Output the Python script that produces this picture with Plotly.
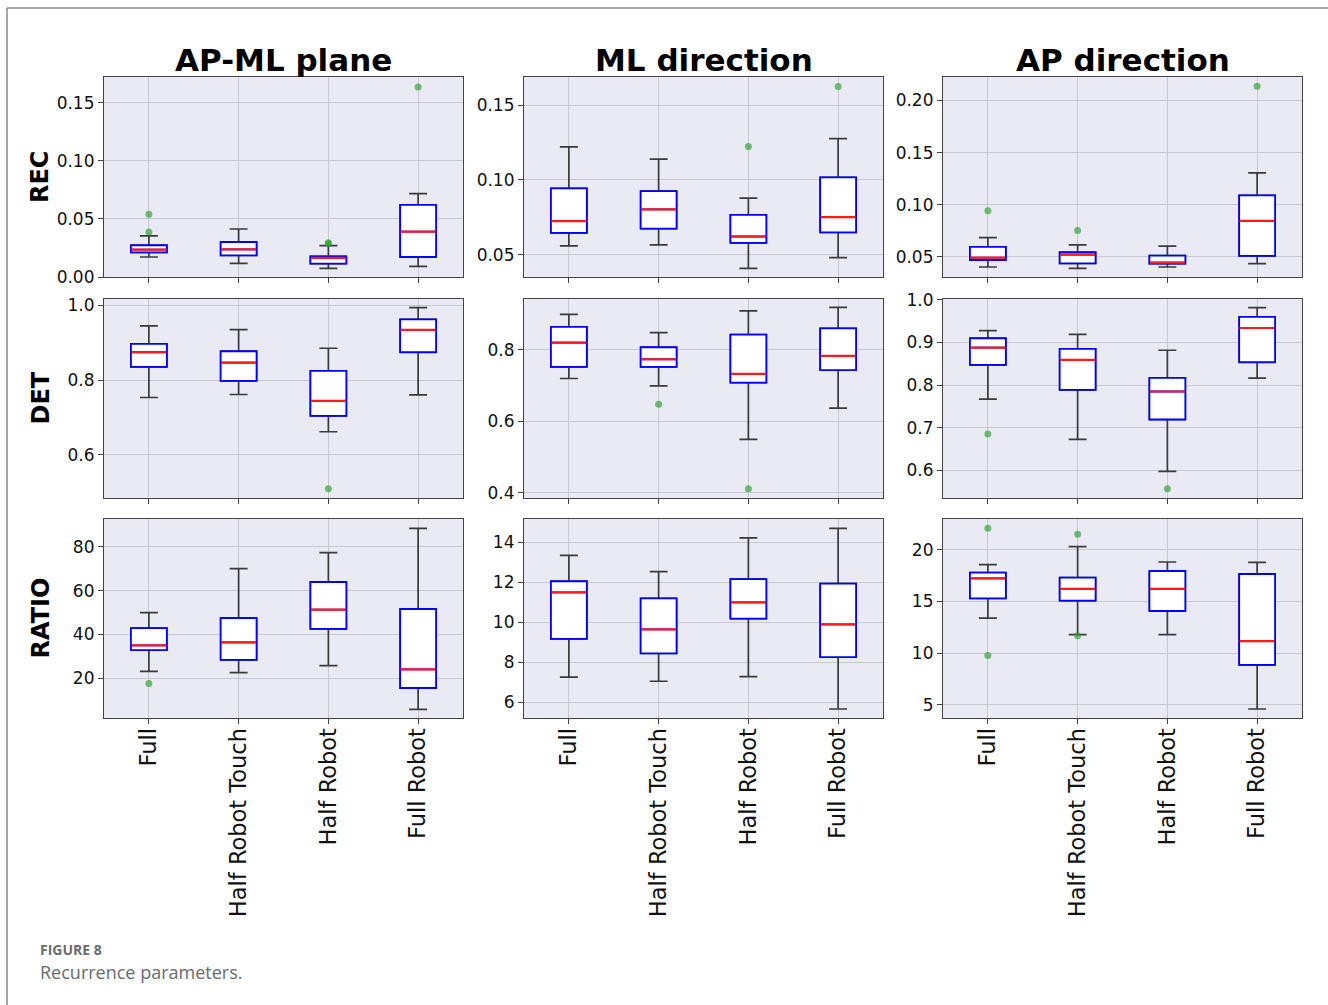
import plotly.graph_objects as go

categories = ["Full", "Half Robot Touch", "Half Robot", "Full Robot"]
col_titles = ["AP-ML plane", "ML direction", "AP direction"]
row_titles = ["REC", "DET", "RATIO"]

# Box statistics per panel: lower whisker, q1, median, q3, upper whisker per category
rec_apml = dict(low=[0.0172, 0.0118, 0.0075, 0.0092], q1=[0.0212, 0.0186, 0.0115, 0.0172],
                med=[0.0235, 0.0238, 0.0164, 0.0390], q3=[0.0273, 0.0301, 0.0178, 0.0620],
                high=[0.0353, 0.0413, 0.0270, 0.0717])
rec_apml_out = dict(cat=["Full", "Full", "Half Robot", "Half Robot", "Full Robot"],
                    val=[0.0539, 0.0387, 0.0295, 0.0285, 0.1635])

rec_ml = dict(low=[0.0558, 0.0565, 0.0408, 0.0480], q1=[0.0645, 0.0674, 0.0578, 0.0648],
              med=[0.0724, 0.0802, 0.0621, 0.0751], q3=[0.0943, 0.0925, 0.0766, 0.1017],
              high=[0.1220, 0.1138, 0.0878, 0.1276])
rec_ml_out = dict(cat=["Half Robot", "Full Robot"], val=[0.1223, 0.1625])

rec_ap = dict(low=[0.0404, 0.0391, 0.0404, 0.0436], q1=[0.0471, 0.0439, 0.0436, 0.0510],
              med=[0.0494, 0.0522, 0.0446, 0.0846], q3=[0.0596, 0.0545, 0.0513, 0.1090],
              high=[0.0686, 0.0615, 0.0603, 0.1305])
rec_ap_out = dict(cat=["Full", "Half Robot Touch", "Full Robot"], val=[0.0942, 0.0753, 0.2135])

det_apml = dict(low=[0.7532, 0.7612, 0.6615, 0.7604], q1=[0.8352, 0.7978, 0.7042, 0.8744],
                med=[0.8744, 0.8468, 0.7443, 0.9341], q3=[0.8967, 0.8770, 0.8245, 0.9626],
                high=[0.9448, 0.9350, 0.8851, 0.9938])
det_apml_out = dict(cat=["Half Robot"], val=[0.5091])

det_ml = dict(low=[0.7193, 0.6988, 0.5494, 0.6367], q1=[0.7517, 0.7517, 0.7081, 0.7425],
              med=[0.8195, 0.7731, 0.7323, 0.7824], q3=[0.8631, 0.8065, 0.8418, 0.8594],
              high=[0.8984, 0.8473, 0.9077, 0.9179])
det_ml_out = dict(cat=["Half Robot Touch", "Half Robot"], val=[0.6478, 0.4121])

det_ap = dict(low=[0.7669, 0.6725, 0.5977, 0.8160], q1=[0.8472, 0.7887, 0.7193, 0.8534],
              med=[0.8877, 0.8589, 0.7848, 0.9337], q3=[0.9096, 0.8846, 0.8168, 0.9595],
              high=[0.9275, 0.9189, 0.8815, 0.9813])
det_ap_out = dict(cat=["Full", "Half Robot"], val=[0.6850, 0.5571])

ratio_apml = dict(low=[23.2, 22.6, 25.8, 5.9], q1=[32.9, 28.4, 42.5, 15.6],
                  med=[35.0, 36.4, 51.3, 24.1], q3=[42.9, 47.5, 63.9, 51.6],
                  high=[49.9, 70.0, 77.3, 88.3])
ratio_apml_out = dict(cat=["Full"], val=[17.6])

ratio_ml = dict(low=[7.25, 7.04, 7.27, 5.65], q1=[9.16, 8.44, 10.18, 8.25],
                med=[11.49, 9.64, 10.99, 9.89], q3=[12.05, 11.19, 12.16, 11.93],
                high=[13.35, 12.53, 14.22, 14.70])
ratio_ml_out = dict(cat=[], val=[])

ratio_ap = dict(low=[13.40, 11.79, 11.79, 4.58], q1=[15.31, 15.08, 14.08, 8.85],
                med=[17.25, 16.22, 16.22, 11.17], q3=[17.80, 17.31, 17.96, 17.67],
                high=[18.57, 20.32, 18.83, 18.80])
ratio_ap_out = dict(cat=["Full", "Full", "Half Robot Touch", "Half Robot Touch"],
                    val=[22.10, 9.78, 21.52, 11.69])

panels = [
    [rec_apml, rec_ml, rec_ap],
    [det_apml, det_ml, det_ap],
    [ratio_apml, ratio_ml, ratio_ap],
]
outliers = [
    [rec_apml_out, rec_ml_out, rec_ap_out],
    [det_apml_out, det_ml_out, det_ap_out],
    [ratio_apml_out, ratio_ml_out, ratio_ap_out],
]
y_ranges = [
    [[0.0, 0.172], [0.035, 0.1688], [0.0308, 0.2224]],
    [[0.4842, 1.0169], [0.386, 0.9411], [0.5353, 1.0016]],
    [[1.93, 92.6], [5.2, 15.17], [3.71, 23.0]],
]
y_dticks = [[0.05, 0.05, 0.05], [0.2, 0.2, 0.1], [20, 2, 5]]
y_formats = [[".2f", ".2f", ".2f"], [".1f", ".1f", ".1f"], ["d", "d", "d"]]

# layout geometry (pixels)
W, H = 1328, 1005
col_px = [(104, 463), (524, 883), (943, 1302)]
row_px = [(77, 277), (299, 498), (519, 718)]

BG = "#eaeaf4"
GRID = "#c8c8ce"
AX = "#444444"
FONT = "DejaVu Sans"

fig = go.Figure()
layout = {}

for r in range(3):
    for c in range(3):
        idx = r * 3 + c + 1
        xa = "x" if idx == 1 else f"x{idx}"
        ya = "y" if idx == 1 else f"y{idx}"
        d = panels[r][c]
        # whiskers (dark grey)
        fig.add_trace(go.Box(
            x=categories, q1=d["q1"], median=d["med"], q3=d["q3"],
            lowerfence=d["low"], upperfence=d["high"],
            width=0.4, whiskerwidth=0.5, boxpoints=False,
            line=dict(color="#3a3a3a", width=1.7), fillcolor="white",
            xaxis=xa, yaxis=ya, showlegend=False, hoverinfo="skip"))
        # box (blue)
        fig.add_trace(go.Box(
            x=categories, q1=d["q1"], median=d["med"], q3=d["q3"],
            lowerfence=d["q1"], upperfence=d["q3"],
            width=0.4, whiskerwidth=0.5, boxpoints=False,
            line=dict(color="#0000ff", width=1.8), fillcolor="white",
            xaxis=xa, yaxis=ya, showlegend=False, hoverinfo="skip"))
        # median (red)
        fig.add_trace(go.Box(
            x=categories, q1=d["med"], median=d["med"], q3=d["med"],
            lowerfence=d["med"], upperfence=d["med"],
            width=0.39, whiskerwidth=0.0, boxpoints=False,
            line=dict(color="#ff1a1a", width=2.2), fillcolor="rgba(0,0,0,0)",
            xaxis=xa, yaxis=ya, showlegend=False, hoverinfo="skip"))
        o = outliers[r][c]
        if o["cat"]:
            fig.add_trace(go.Scatter(
                x=o["cat"], y=o["val"], mode="markers",
                marker=dict(color="#2ca02c", size=7, opacity=0.65),
                xaxis=xa, yaxis=ya, showlegend=False, hoverinfo="skip"))

        x0, x1 = col_px[c]
        y0, y1 = row_px[r]
        xkey = "xaxis" if idx == 1 else f"xaxis{idx}"
        ykey = "yaxis" if idx == 1 else f"yaxis{idx}"
        layout[xkey] = dict(
            domain=[x0 / W, x1 / W], anchor=ya, type="category", automargin=False,
            categoryorder="array", categoryarray=categories, range=[-0.5, 3.5],
            showgrid=True, gridcolor=GRID, gridwidth=1,
            showline=True, linecolor=AX, linewidth=1.2, mirror=True,
            ticks="outside", ticklen=5, tickcolor=AX, tickwidth=1.2,
            showticklabels=(r == 2), tickangle=-90, ticklabelstandoff=-5,
            tickfont=dict(family=FONT, size=22.5, color="#111111"),
            zeroline=False, fixedrange=True)
        layout[ykey] = dict(
            domain=[1 - y1 / H, 1 - y0 / H], anchor=xa, automargin=False,
            range=y_ranges[r][c], dtick=y_dticks[r][c], tick0=0,
            tickformat=y_formats[r][c],
            showgrid=True, gridcolor=GRID, gridwidth=1,
            showline=True, linecolor=AX, linewidth=1.2, mirror=True,
            ticks="outside", ticklen=5, tickcolor=AX, tickwidth=1.2,
            tickfont=dict(family=FONT, size=17, color="#111111"),
            zeroline=False, fixedrange=True)

annotations = []
for c, t in enumerate(col_titles):
    x0, x1 = col_px[c]
    annotations.append(dict(
        text=f"<b>{t}</b>", x=(x0 + x1) / 2 / W, y=1 - 60 / H,
        xref="paper", yref="paper", xanchor="center", yanchor="middle",
        showarrow=False, font=dict(family=FONT, size=31, color="#000000")))
for r, t in enumerate(row_titles):
    y0, y1 = row_px[r]
    annotations.append(dict(
        text=f"<b>{t}</b>", x=40 / W, y=1 - (y0 + y1) / 2 / H,
        xref="paper", yref="paper", xanchor="center", yanchor="middle",
        textangle=-90, showarrow=False,
        font=dict(family=FONT, size=24, color="#000000")))
annotations.append(dict(
    text="<b>FIGURE 8</b>", x=38 / W, y=1 - 949 / H, xref="paper", yref="paper",
    xanchor="left", yanchor="middle", showarrow=False,
    font=dict(family="Open Sans", size=14, color="#6b6b6b")))
annotations.append(dict(
    text="Recurrence parameters.", x=38 / W, y=1 - 972 / H, xref="paper", yref="paper",
    xanchor="left", yanchor="middle", showarrow=False,
    font=dict(family="Open Sans", size=18, color="#6b6b6b")))

shapes = [
    dict(type="line", xref="paper", yref="paper", x0=7 / W, x1=1.0, y0=1 - 8 / H, y1=1 - 8 / H,
         line=dict(color="#8a8a8a", width=1.5)),
    dict(type="line", xref="paper", yref="paper", x0=7 / W, x1=7 / W, y0=0, y1=1 - 8 / H,
         line=dict(color="#8a8a8a", width=1.5)),
]

fig.update_layout(
    width=W, height=H, margin=dict(l=0, r=0, t=0, b=0, autoexpand=False),
    paper_bgcolor="white", plot_bgcolor=BG, boxmode="overlay",
    annotations=annotations, shapes=shapes, font=dict(family=FONT),
    **layout)

css_fix = (
    "var s=document.createElement('style');"
    "s.textContent='html,body{margin:0;padding:0;overflow:hidden;}';"
    "document.head.appendChild(s);"
)

fig.write_html(
    "out.html",
    config={"displayModeBar": False},
    post_script=css_fix,
)
